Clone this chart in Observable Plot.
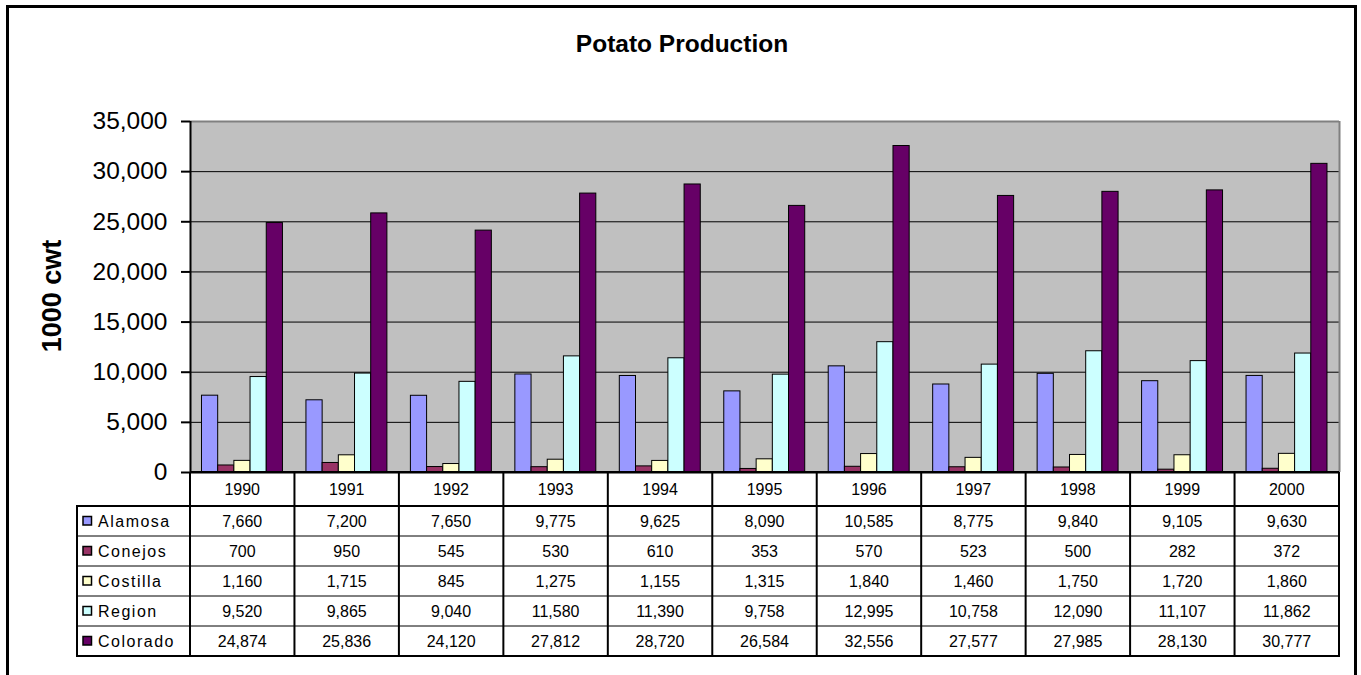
<!DOCTYPE html>
<html>
<head>
<meta charset="utf-8">
<script src="https://cdn.jsdelivr.net/npm/d3@7"></script>
<script src="https://cdn.jsdelivr.net/npm/@observablehq/plot@0.6"></script>
<style>
  html, body { margin: 0; padding: 0; background: #fff; }
  body { width: 1361px; height: 675px; position: relative; overflow: hidden;
         font-family: "Liberation Sans", Arial, sans-serif; }
  #border { position: absolute; left: 6px; top: 5px; width: 1345px; height: 720px;
            border: 3px solid #000; }
  #chart { position: absolute; left: 0; top: 0; }
  #overlay { position: absolute; left: 0; top: 0; }
  #chart svg g[aria-label^="y-axis"] line,
  #chart svg g[aria-label="y-axis tick"] path { stroke-width: 2px; }
</style>
</head>
<body>
<div id="border"></div>
<div id="chart"></div>
<svg id="overlay" width="1361" height="675"></svg>
<script>
// ---- data ----
const years = [1990, 1991, 1992, 1993, 1994, 1995, 1996, 1997, 1998, 1999, 2000];
const seriesNames = ["Alamosa", "Conejos", "Costilla", "Region", "Colorado"];
const alamosa  = [7660, 7200, 7650, 9775, 9625, 8090, 10585, 8775, 9840, 9105, 9630];
const conejos  = [700, 950, 545, 530, 610, 353, 570, 523, 500, 282, 372];
const costilla = [1160, 1715, 845, 1275, 1155, 1315, 1840, 1460, 1750, 1720, 1860];
const region   = [9520, 9865, 9040, 11580, 11390, 9758, 12995, 10758, 12090, 11107, 11862];
const colorado = [24874, 25836, 24120, 27812, 28720, 26584, 32556, 27577, 27985, 28130, 30777];
const yTicks = [0, 5000, 10000, 15000, 20000, 25000, 30000, 35000];
const seriesColors = ["#9999FF", "#993366", "#FFFFCC", "#CCFFFF", "#660066"];
const title = "Potato Production";
const yLabel = "1000 cwt";

const seriesValues = [alamosa, conejos, costilla, region, colorado];
const groupOffset = 0.11, barW = 0.155;
const rows = [];
years.forEach((yr, i) => {
  seriesNames.forEach((s, k) => {
    const x1 = i + groupOffset + k * barW;
    rows.push({year: yr, series: s, value: seriesValues[k][i], x1, x2: x1 + barW});
  });
});

const fmt = d3.format(",");

const plot = Plot.plot({
  width: 1361,
  height: 480,
  marginTop: 121,
  marginBottom: 8,
  marginLeft: 190,
  marginRight: 22,
  x: {domain: [0, years.length], axis: null},
  y: {domain: [0, 35000], ticks: yTicks, tickFormat: fmt, tickSize: 9, tickPadding: 14, label: null},
  color: {domain: seriesNames, range: seriesColors},
  style: {fontSize: "24.5px", fontFamily: "'Liberation Sans', Arial, sans-serif",
          background: "transparent", overflow: "visible", color: "#000"},
  marks: [
    Plot.frame({fill: "#c0c0c0"}),
    Plot.ruleY(yTicks.slice(1, -1), {stroke: "#000", strokeWidth: 1}),
    Plot.ruleY([35000], {stroke: "#808080", strokeWidth: 2}),
    Plot.ruleX([years.length], {stroke: "#808080", strokeWidth: 2}),
    Plot.rectY(rows, {x1: "x1", x2: "x2", y: "value", fill: "series", stroke: "#000", strokeWidth: 1}),
    Plot.ruleX([0], {stroke: "#000", strokeWidth: 2}),
    Plot.ruleY([0], {stroke: "#000", strokeWidth: 2})
  ]
});
document.getElementById("chart").appendChild(plot);

// ---- title, y label and data table (aligned to the plot's x scale) ----
const xs = plot.scale("x");
const px = v => xs.range[0] + (v - xs.domain[0]) / (xs.domain[1] - xs.domain[0]) * (xs.range[1] - xs.range[0]);
const ys = plot.scale("y");
const py = v => ys.range[0] + (v - ys.domain[0]) / (ys.domain[1] - ys.domain[0]) * (ys.range[1] - ys.range[0]);

const svg = d3.select("#overlay");
svg.append("text").attr("x", 682).attr("y", 52).attr("text-anchor", "middle")
  .attr("font-weight", "bold").attr("font-size", 24.5).text(title);
svg.append("text").attr("transform", "translate(60.5,296) rotate(-90)")
  .attr("text-anchor", "middle").attr("font-weight", "bold").attr("font-size", 27).text(yLabel);

const left = px(0), right = px(years.length);
const labelLeft = 77;
const top0 = py(0);           // table header top = zero line
const headerBottom = top0 + 34;
const rowH = 30;
const tableBottom = headerBottom + rowH * seriesNames.length;
const g = svg.append("g");
const line = (x1, y1, x2, y2, w) =>
  g.append("line").attr("x1", x1).attr("y1", y1).attr("x2", x2).attr("y2", y2)
   .attr("stroke", "#000").attr("stroke-width", w);

// horizontal lines
line(left, top0, right, top0, 2);
line(labelLeft - 1, headerBottom, right + 1, headerBottom, 2);
for (let r = 1; r < seriesNames.length; r++) line(labelLeft, headerBottom + r * rowH, right, headerBottom + r * rowH, 1);
line(labelLeft - 1, tableBottom, right + 1, tableBottom, 2);
// vertical lines
for (let i = 0; i <= years.length; i++) line(px(i), top0, px(i), tableBottom, 2);
line(labelLeft, headerBottom, labelLeft, tableBottom, 2);

// header year labels
years.forEach((yr, i) => {
  g.append("text").attr("x", px(i + 0.5)).attr("y", (top0 + headerBottom) / 2 + 6)
   .attr("text-anchor", "middle").attr("font-size", 16).text(yr);
});
// body
seriesNames.forEach((s, k) => {
  const cy = headerBottom + k * rowH + rowH / 2;
  g.append("rect").attr("x", 83).attr("y", cy - 4.5).attr("width", 8.5).attr("height", 8.5)
   .attr("fill", seriesColors[k]).attr("stroke", "#000").attr("stroke-width", 1.5);
  g.append("text").attr("x", 98).attr("y", cy + 6).attr("font-size", 16)
   .attr("letter-spacing", "1.5px").text(s);
  seriesValues[k].forEach((v, i) => {
    g.append("text").attr("x", px(i + 0.5)).attr("y", cy + 6)
     .attr("text-anchor", "middle").attr("font-size", 16).text(fmt(v));
  });
});
</script>
</body>
</html>
